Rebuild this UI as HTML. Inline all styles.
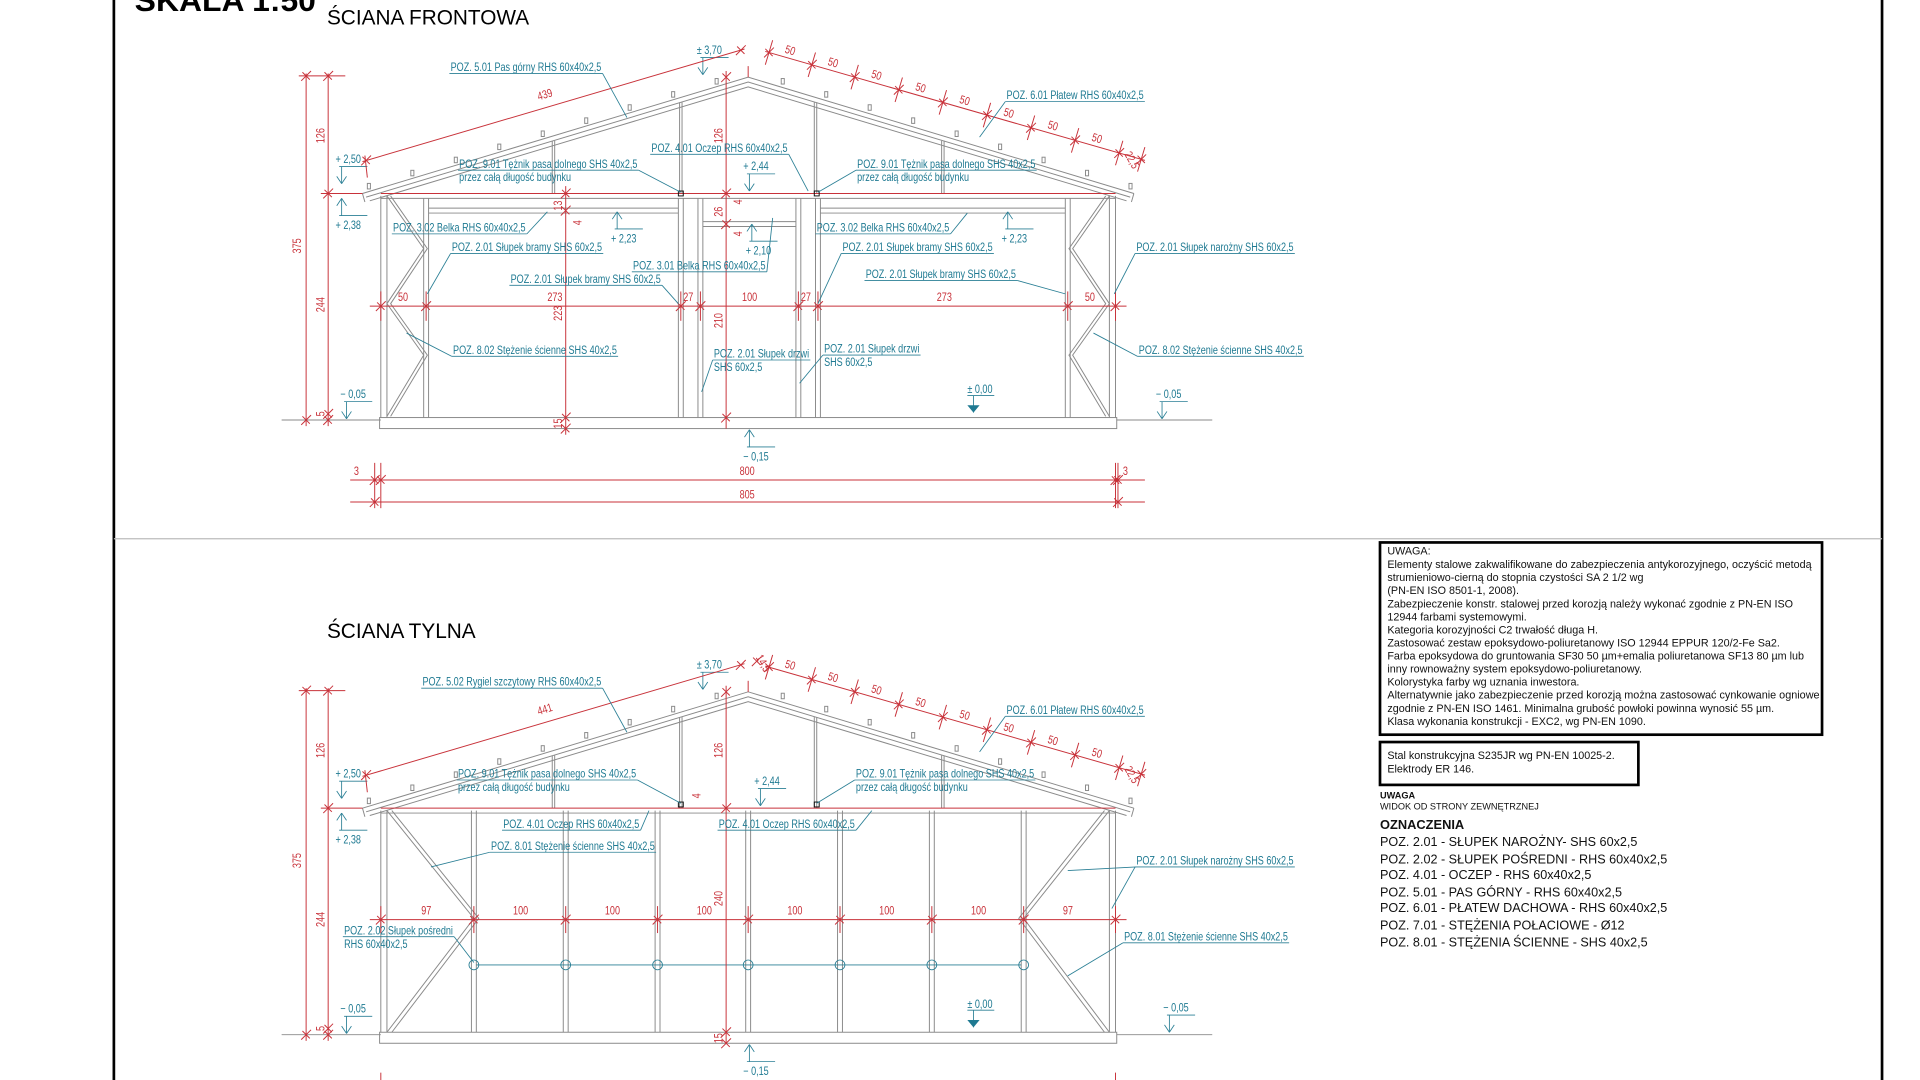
<!DOCTYPE html>
<html><head><meta charset="utf-8"><style>
html,body{margin:0;padding:0;background:#fff;width:1920px;height:1080px;overflow:hidden}
svg{display:block}
.g{stroke:#8a8a8a;stroke-width:0.8;fill:none}
.r{stroke:#c8323a;stroke-width:0.8;fill:none}
.t{stroke:#2a7f95;stroke-width:0.7;fill:none}
.tt{fill:#1f7a92;font-family:"Liberation Sans Narrow","Liberation Sans",sans-serif;font-size:9.5px}
.rt{fill:#c8323a;font-family:"Liberation Sans Narrow","Liberation Sans",sans-serif;font-size:9.5px}
.bx{font-family:"Liberation Sans",sans-serif;font-size:8.8px;fill:#111}
</style></head><body>
<svg id="s" width="1920" height="1080" viewBox="0 0 1568 882" xmlns="http://www.w3.org/2000/svg">
<line x1="93" y1="0" x2="93" y2="882" stroke="#000" stroke-width="2.2"/>
<line x1="1537" y1="0" x2="1537" y2="882" stroke="#000" stroke-width="2.2"/>
<line x1="93" y1="440" x2="1537" y2="440" stroke="#bbb" stroke-width="1"/>
<text x="110" y="9" style="font-family:'Liberation Sans',sans-serif;font-weight:bold;font-size:25px" textLength="148" lengthAdjust="spacingAndGlyphs">SKALA 1:50</text>
<text x="267" y="20" style="font-family:'Liberation Sans',sans-serif;font-size:17px">ŚCIANA FRONTOWA</text>
<text x="267" y="521" style="font-family:'Liberation Sans',sans-serif;font-size:17px">ŚCIANA TYLNA</text>
<rect x="1127" y="443" width="361" height="157" fill="none" stroke="#000" stroke-width="2.2"/>
<g class="bx">
<text x="1133" y="453">UWAGA:</text>
<text x="1133" y="464">Elementy stalowe zakwalifikowane do zabezpieczenia antykorozyjnego, oczyścić metodą</text>
<text x="1133" y="474.6">strumieniowo-cierną do stopnia czystości SA 2 1/2 wg</text>
<text x="1133" y="485.3">(PN-EN ISO 8501-1, 2008).</text>
<text x="1133" y="496">Zabezpieczenie konstr. stalowej przed korozją należy wykonać zgodnie z PN-EN ISO</text>
<text x="1133" y="506.6">12944 farbami systemowymi.</text>
<text x="1133" y="517.3">Kategoria korozyjności C2 trwałość długa H.</text>
<text x="1133" y="528">Zastosować zestaw epoksydowo-poliuretanowy ISO 12944 EPPUR 120/2-Fe Sa2.</text>
<text x="1133" y="538.6">Farba epoksydowa do gruntowania SF30 50 µm+emalia poliuretanowa SF13 80 µm lub</text>
<text x="1133" y="549.3">inny rownoważny system epoksydowo-poliuretanowy.</text>
<text x="1133" y="560">Kolorystyka farby wg uznania inwestora.</text>
<text x="1133" y="570.6" textLength="353" lengthAdjust="spacingAndGlyphs">Alternatywnie jako zabezpieczenie przed korozją można zastosować cynkowanie ogniowe</text>
<text x="1133" y="581.3">zgodnie z PN-EN ISO 1461. Minimalna grubość powłoki powinna wynosić 55 µm.</text>
<text x="1133" y="592">Klasa wykonania konstrukcji - EXC2, wg PN-EN 1090.</text>
</g>
<rect x="1127" y="606" width="211" height="35" fill="none" stroke="#000" stroke-width="2.2"/>
<g class="bx">
<text x="1133" y="620">Stal konstrukcyjna S235JR wg PN-EN 10025-2.</text>
<text x="1133" y="631">Elektrody ER 146.</text>
<text x="1127" y="652" style="font-weight:bold;font-size:7.5px">UWAGA</text>
<text x="1127" y="661" style="font-size:7.5px">WIDOK OD STRONY ZEWNĘTRZNEJ</text>
<text x="1127" y="677" style="font-weight:bold;font-size:10.5px">OZNACZENIA</text>
<g style="font-size:10.3px">
<text x="1127" y="691">POZ. 2.01 - SŁUPEK NAROŻNY- SHS 60x2,5</text>
<text x="1127" y="705">POZ. 2.02 - SŁUPEK POŚREDNI - RHS 60x40x2,5</text>
<text x="1127" y="718">POZ. 4.01 - OCZEP - RHS 60x40x2,5</text>
<text x="1127" y="732">POZ. 5.01 - PAS GÓRNY - RHS 60x40x2,5</text>
<text x="1127" y="745">POZ. 6.01 - PŁATEW DACHOWA - RHS 60x40x2,5</text>
<text x="1127" y="759">POZ. 7.01 - STĘŻENIA POŁACIOWE - Ø12</text>
<text x="1127" y="773">POZ. 8.01 - STĘŻENIA ŚCIENNE - SHS 40x2,5</text>
</g></g>
<g id="d"></g>
</svg>
<script>
var NS="http://www.w3.org/2000/svg",D=document.getElementById('d');
var K=0.78;
function el(t,a,tx){var e=document.createElementNS(NS,t);for(var k in a)e.setAttribute(k,a[k]);if(tx!=null)e.textContent=tx;D.appendChild(e);return e;}
function L(x1,y1,x2,y2,c){return el('line',{x1:x1,y1:y1,x2:x2,y2:y2,'class':c||'g'});}
function P(pts,c){return el('polyline',{points:pts,'class':c||'g'});}
function T(x,y,s,c,rot){var a={x:x,y:y,'class':c||'tt'};if(rot)a.transform='rotate('+rot+' '+x+' '+y+')';var e=el('text',a,s);
 var w=e.getComputedTextLength()*K;e.setAttribute('textLength',w);e.setAttribute('lengthAdjust','spacingAndGlyphs');e._w=w;return e;}
function tk(x,y){L(x-4,y+4,x+4,y-4,'r');L(x-3,y-3,x+3,y+3,'r');}
function lbl(x,y,s,lx,ly,s2){var t=T(x,y,s);var w=t._w;if(s2){T(x,y+11,s2);}
 L(x-1,y+2,x+w+1,y+2,'t');var ox=(lx>x+w/2)?x+w+1:x-1;L(ox,y+2,lx,ly,'t');}
function levD(x,y,s){T(x,y,s,'tt');L(x+3,y+3,x+26,y+3,'t');L(x+5,y+3,x+5,y+17,'t');L(x+1,y+11,x+5,y+17,'t');L(x+9,y+11,x+5,y+17,'t');}
function levU(x,y,s){T(x,y,s,'tt');L(x+3,y-11,x+26,y-11,'t');L(x+5,y-11,x+5,y-25,'t');L(x+1,y-19,x+5,y-25,'t');L(x+9,y-19,x+5,y-25,'t');}
function wall(dy,back){
 P('296,'+(158+dy)+' 611,'+(63+dy)+' 926,'+(158+dy));
 P('299,'+(161+dy)+' 611,'+(67+dy)+' 923,'+(161+dy));
 P('302,'+(164+dy)+' 611,'+(71+dy)+' 920,'+(164+dy));
 L(296,158+dy,298,165+dy);L(926,158+dy,924,165+dy);
 for(var i=0;i<9;i++){var x=300+i*35.5;var y=158+dy-(x-296)*95/315;el('rect',{x:x,y:y-7,width:2.5,height:4.5,'class':'g'});
  var x2=922-i*35.5;var y2=158+dy-(926-x2)*95/315;el('rect',{x:x2,y:y2-7,width:2.5,height:4.5,'class':'g'});}
 [452,556,666,770].forEach(function(x){var y=158+dy-(x<611?(x-296):(926-x))*95/315;L(x-1,y+4,x-1,158+dy);L(x+1,y+4,x+1,158+dy);});
 L(311,158+dy,911,158+dy,'r');L(311,162+dy,911,162+dy);
 el('rect',{x:310,y:341+dy,width:602,height:9,'class':'g'});
 L(230,343+dy,311,343+dy);L(912,343+dy,990,343+dy);
 [311,316,906,911].forEach(function(x){L(x,160+dy,x,341+dy);});
 L(250,60+dy,250,348+dy,'r');L(268,60+dy,268,348+dy,'r');
 L(244,62+dy,282,62+dy,'r');L(262,158+dy,296,158+dy,'r');
 [62,343].forEach(function(y){tk(250,y+dy);});[62,158,338,343].forEach(function(y){tk(268,y+dy);});
 T(265,117+dy,'126','rt',-90);T(246,207+dy,'375','rt',-90);T(265,255+dy,'244','rt',-90);T(265,340+dy,'5','rt',-90);
 levD(274,133+dy,'+ 2,50');levU(274,187+dy,'+ 2,38');levD(278,325+dy,'− 0,05');
 levD(569,44+dy,'± 3,70');
 levU(607,376+dy,'− 0,15');
 T(790,321+dy,'± 0,00');L(790,323+dy,812,323+dy,'t');L(795,323+dy,795,337+dy,'t');el('polygon',{points:'790,'+(331+dy)+' 800,'+(331+dy)+' 795,'+(337+dy),fill:'#1f7a92'});
 L(296,132+dy,608,40+dy,'r');tk(299,131+dy);tk(605,41+dy);
 L(298,127+dy,300,145+dy,'r');
 T(440,82+dy,back?'441':'439','rt',-17);
 L(625,42+dy,935,131+dy,'r');
 var xs=[628,663,698,734,770,806,842,878,914,932];
 xs.forEach(function(x,i){var y=42+dy+(x-625)*89/310;tk(x,y);L(x-3,y+10,x+3,y-10,'r');});
 for(var i=0;i<8;i++){var x=(xs[i]+xs[i+1])/2;var y=42+dy+(x-625)*89/310-5;T(x-5,y,'50','rt',17);}
 T(918,126+dy,'22,5','rt',60);
 L(611,63+dy,611,54+dy,'r');
}
wall(0,false);wall(502,true);
[348,556,572,652,668,872].forEach(function(x){L(x-2,162,x-2,341);L(x+2,162,x+2,341);});
L(350,170,554,170);L(350,174,554,174);L(670,170,870,170);L(670,174,870,174);L(574,181,650,181);L(574,185,650,185);
P('316,160 346,203 316,248 346,290 316,340');P('319,160 349,203 319,248 349,290 319,340');
P('906,160 876,203 906,248 876,290 906,340');P('903,160 873,203 903,248 873,290 903,340');
L(302,250,920,250,'r');[311,348,556,572,652,668,872,911].forEach(function(x){tk(x,250);L(x,238,x,262,'r');});
[[330,'50'],[452,'273'],[563,'27'],[611,'100'],[659,'27'],[770,'273'],[891,'50']].forEach(function(a){T(a[0]-5,246,a[1],'rt');});
L(462,152,462,355,'r');[158,172,341,350].forEach(function(y){tk(462,y);});
T(459,172,'13','rt',-90);T(475,184,'4','rt',-90);T(459,262,'223','rt',-90);T(459,350,'15','rt',-90);
L(593,58,593,350,'r');[63,158,183,341].forEach(function(y){tk(593,y);});
T(590,117,'126','rt',-90);T(590,177,'26','rt',-90);T(606,167,'4','rt',-90);T(606,193,'4','rt',-90);T(590,268,'210','rt',-90);
levD(607,139,'+ 2,44');levU(499,198,'+ 2,23');levU(818,198,'+ 2,23');levU(609,208,'+ 2,10');
levD(944,325,'− 0,05');
L(286,392,935,392,'r');L(286,410,935,410,'r');[311,911].forEach(function(x){L(x,378,x,415,'r');tk(x,392);});[306,913].forEach(function(x){L(x,378,x,415,'r');tk(x,392);tk(x,410);});
T(289,388,'3','rt');T(604,388,'800','rt');T(917,388,'3','rt');T(604,407,'805','rt');
el('rect',{x:554,y:156,width:4,height:4,fill:'none',stroke:'#111','stroke-width':0.8});
el('rect',{x:665,y:156,width:4,height:4,fill:'none',stroke:'#111','stroke-width':0.8});
lbl(368,58,'POZ. 5.01 Pas górny RHS 60x40x2,5',512,96);
lbl(822,81,'POZ. 6.01 Płatew RHS 60x40x2,5',800,112);
lbl(532,124,'POZ. 4.01 Oczep RHS 60x40x2,5',660,156);
lbl(375,137,'POZ. 9.01 Tężnik pasa dolnego SHS 40x2,5',556,157,'przez całą długość budynku');
lbl(700,137,'POZ. 9.01 Tężnik pasa dolnego SHS 40x2,5',668,157,'przez całą długość budynku');
lbl(321,189,'POZ. 3.02 Belka RHS 60x40x2,5',447,173);
lbl(667,189,'POZ. 3.02 Belka RHS 60x40x2,5',790,174);
lbl(369,205,'POZ. 2.01 Słupek bramy SHS 60x2,5',349,240);
lbl(517,220,'POZ. 3.01 Belka RHS 60x40x2,5',631,178);
lbl(417,231,'POZ. 2.01 Słupek bramy SHS 60x2,5',554,248);
lbl(688,205,'POZ. 2.01 Słupek bramy SHS 60x2,5',668,248);
lbl(707,227,'POZ. 2.01 Słupek bramy SHS 60x2,5',870,240);
lbl(928,205,'POZ. 2.01 Słupek narożny SHS 60x2,5',910,240);
lbl(370,289,'POZ. 8.02 Stężenie ścienne SHS 40x2,5',332,272);
lbl(930,289,'POZ. 8.02 Stężenie ścienne SHS 40x2,5',893,272);
lbl(583,292,'POZ. 2.01 Słupek drzwi',573,320,'SHS 60x2,5');
lbl(673,288,'POZ. 2.01 Słupek drzwi',653,313,'SHS 60x2,5');
[387,462,537,611,686,761,836].forEach(function(x){L(x-2,662,x-2,843);L(x+2,662,x+2,843);});
P('316,662 387,750 316,843');P('320,662 391,750 320,843');
P('906,662 836,750 906,843');P('902,662 832,750 902,843');
L(302,751,920,751,'r');[311,387,462,537,611,686,761,836,911].forEach(function(x){tk(x,751);L(x,740,x,762,'r');});
[[349,'97'],[424,'100'],[499,'100'],[574,'100'],[648,'100'],[723,'100'],[798,'100'],[873,'97']].forEach(function(a){T(a[0]-5,747,a[1],'rt');});
L(389,788,834,788,'t');[387,462,537,611,686,761,836].forEach(function(x){el('circle',{cx:x,cy:788,r:4,'class':'t'});});
L(593,560,593,852,'r');[565,660,843,852].forEach(function(y){tk(593,y);});
T(590,619,'126','rt',-90);T(590,740,'240','rt',-90);T(590,852,'15','rt',-90);T(572,652,'4','rt',-90);
T(617,537,'14,5','rt',60);tk(618,540);
levD(616,641,'+ 2,44');levD(950,826,'− 0,05');
el('rect',{x:554,y:655,width:4,height:4,fill:'none',stroke:'#111','stroke-width':0.8});
el('rect',{x:665,y:655,width:4,height:4,fill:'none',stroke:'#111','stroke-width':0.8});
lbl(345,560,'POZ. 5.02 Rygiel szczytowy RHS 60x40x2,5',512,598);
lbl(822,583,'POZ. 6.01 Płatew RHS 60x40x2,5',800,614);
lbl(374,635,'POZ. 9.01 Tężnik pasa dolnego SHS 40x2,5',556,656,'przez całą długość budynku');
lbl(699,635,'POZ. 9.01 Tężnik pasa dolnego SHS 40x2,5',667,656,'przez całą długość budynku');
lbl(411,676,'POZ. 4.01 Oczep RHS 60x40x2,5',530,662);
lbl(587,676,'POZ. 4.01 Oczep RHS 60x40x2,5',712,662);
lbl(401,694,'POZ. 8.01 Stężenie ścienne SHS 40x2,5',352,708);
lbl(928,706,'POZ. 2.01 Słupek narożny SHS 60x2,5',908,742);L(928,708,872,711,'t');
lbl(281,763,'POZ. 2.02 Słupek pośredni',387,786,'RHS 60x40x2,5');
lbl(918,768,'POZ. 8.01 Stężenie ścienne SHS 40x2,5',872,797);
L(311,876,311,882,'r');L(911,876,911,882,'r');
</script>
</body></html>
